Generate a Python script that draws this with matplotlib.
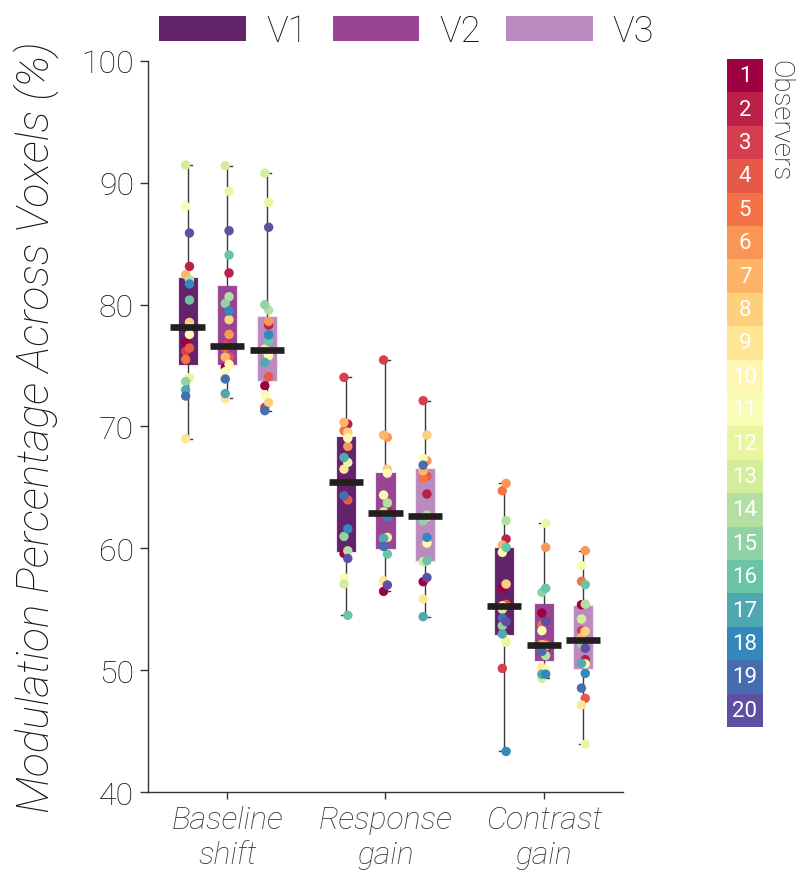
import matplotlib
matplotlib.use("Agg")
import matplotlib.pyplot as plt
from matplotlib.colors import ListedColormap
from matplotlib.patches import Patch
import numpy as np

plt.rcParams['font.family'] = ['Roboto', 'Liberation Sans', 'DejaVu Sans']
plt.rcParams['font.weight'] = 'light'

categories = ["Baseline\nshift", "Response\ngain", "Contrast\ngain"]
areas = ["V1", "V2", "V3"]
observers = list(range(1, 21))

# modulation (%) per observer 1..20
baseline_v1 = [76.9, 83.14, 76.16, 76.44, 75.5, 78.3, 82.46, 78.54, 69.0, 77.56,
               88.07, 74.0, 91.46, 82.05, 73.7, 80.38, 73.0, 81.7, 72.5, 85.88]
baseline_v2 = [74.85, 82.6, 76.7, 75.67, 76.5, 77.56, 75.7, 78.77, 72.3, 75.1,
               74.5, 89.3, 91.41, 80.65, 80.1, 84.07, 72.7, 79.48, 73.9, 86.07]
baseline_v3 = [73.35, 78.33, 71.57, 74.08, 76.3, 78.63, 76.22, 71.98, 76.36, 75.81,
               72.61, 88.4, 90.8, 79.56, 80.0, 76.99, 75.26, 77.53, 71.3, 86.35]
response_v1 = [59.58, 70.2, 74.03, 63.97, 69.66, 68.37, 70.34, 69.52, 66.5, 69.05,
               57.6, 67.05, 57.07, 59.8, 60.98, 54.5, 67.46, 61.6, 64.32, 59.17]
response_v2 = [56.47, 63.09, 75.46, 63.77, 62.9, 69.11, 69.3, 66.5, 57.34, 66.17,
               64.37, 60.9, 63.0, 63.72, 60.8, 59.53, 60.82, 62.62, 60.16, 56.99]
response_v3 = [57.26, 64.46, 72.12, 65.91, 65.75, 67.19, 66.37, 69.3, 55.84, 60.43,
               67.38, 62.6, 58.9, 62.73, 62.27, 58.98, 54.39, 60.9, 66.83, 57.6]
contrast_v1 = [56.72, 60.76, 50.14, 55.4, 64.73, 65.33, 60.27, 57.07, 55.29, 52.56,
               59.67, 52.28, 55.0, 62.27, 53.65, 60.08, 52.97, 43.33, 54.27, 53.98]
contrast_v2 = [54.69, 51.68, 52.15, 52.15, 53.7, 60.08, 52.1, 52.0, 50.23, 50.0,
               53.24, 62.05, 49.33, 51.2, 56.39, 56.72, 49.67, 49.67, 51.55, 53.98]
contrast_v3 = [55.37, 50.87, 53.24, 47.69, 57.29, 59.81, 52.69, 53.19, 47.14, 50.51,
               58.58, 43.93, 54.2, 55.42, 52.15, 57.02, 50.56, 49.74, 48.53, 51.8]

# box summaries (rows: categories, cols: V1..V3)
q1 = [[75.07, 75.04, 73.76], [59.72, 59.95, 58.98], [52.88, 50.78, 50.09]]
medians = [[78.13, 76.63, 76.3], [65.41, 62.9, 62.68], [55.29, 52.09, 52.46]]
q3 = [[82.24, 81.61, 79.09], [69.25, 66.29, 66.56], [60.13, 55.51, 55.34]]

data = [[baseline_v1, baseline_v2, baseline_v3],
        [response_v1, response_v2, response_v3],
        [contrast_v1, contrast_v2, contrast_v3]]

area_colors = ["#63236b", "#984594", "#bb8bbf"]
obs_colors = plt.cm.Spectral(np.linspace(0, 1, len(observers)))
ink = "#161616"

fig = plt.figure(figsize=(7.96, 8.78), dpi=100)
ax = fig.add_axes([0.1859, 0.0968, 0.5967, 0.8326])

offset = 0.25
stats, positions, fills = [], [], []
for i in range(len(categories)):
    for j in range(len(areas)):
        vals = np.array(data[i][j])
        stats.append(dict(med=medians[i][j], q1=q1[i][j], q3=q3[i][j],
                          whislo=vals.min(), whishi=vals.max(), fliers=[]))
        positions.append(i + (j - 1) * offset)
        fills.append(area_colors[j])

bp = ax.bxp(stats, positions=positions, widths=0.127, patch_artist=True,
            showfliers=False, capwidths=0.06, zorder=1,
            boxprops=dict(edgecolor="#f2e4f2", linewidth=0.8),
            whiskerprops=dict(color="#3a3a3a", linewidth=1.0),
            capprops=dict(color="#3a3a3a", linewidth=1.0),
            medianprops=dict(linewidth=0))
for box, c in zip(bp["boxes"], fills):
    box.set_facecolor(c)

jitter = 0.012 * np.where(np.array(observers) % 2 == 0, 1, -1)
for k, pos in enumerate(positions):
    i, j = divmod(k, 3)
    ax.scatter(pos + jitter, data[i][j], s=46, c=obs_colors,
               linewidths=0, zorder=3)
    ax.hlines(medians[i][j], pos - 0.108, pos + 0.108, color="#231f20",
              linewidth=4.8, zorder=4)

ax.set_xlim(-0.5, 2.5)
ax.set_ylim(40, 100)
ax.set_yticks([40, 50, 60, 70, 80, 90, 100])
ax.set_xticks(range(len(categories)))
ax.set_xticklabels(categories, fontsize=23, fontstyle="italic", color=ink,
                   linespacing=1.3)
ax.tick_params(axis="y", labelsize=23, length=6, width=1, pad=4,
               colors="#333333", labelcolor=ink)
ax.tick_params(axis="x", length=5, width=1, pad=4, colors="#333333")
for s in ["top", "right"]:
    ax.spines[s].set_visible(False)
for s in ["left", "bottom"]:
    ax.spines[s].set_color("#333333")
    ax.spines[s].set_linewidth(1)
ax.set_ylabel("Modulation Percentage Across Voxels (%)", fontsize=32,
              fontstyle="italic", fontweight="light", color=ink,
              labelpad=16)

handles = [Patch(facecolor=c, edgecolor="none") for c in area_colors]
fig.legend(handles, areas, loc="upper center", bbox_to_anchor=(0.511, 1.015),
           ncol=3, frameon=False, fontsize=26, handlelength=2.4,
           handleheight=0.69, handletextpad=0.55, columnspacing=0.7,
           borderpad=0.25, labelcolor=ink)

# observer colour key
cax = fig.add_axes([0.9133, 0.1708, 0.0452, 0.7608])
cax.imshow(np.arange(len(observers))[:, None], cmap=ListedColormap(obs_colors),
           aspect="auto", interpolation="nearest")
for k, n in enumerate(observers):
    cax.text(0, k, str(n), ha="center", va="center", color="white",
             fontsize=16, fontweight="normal")
cax.set_xticks([])
cax.set_yticks([])
for s in cax.spines.values():
    s.set_visible(False)
cax.text(1.08, 1.0, "Observers", transform=cax.transAxes, rotation=-90,
         ha="left", va="top", fontsize=20, color=ink)

fig.savefig("out.png", dpi=100)
